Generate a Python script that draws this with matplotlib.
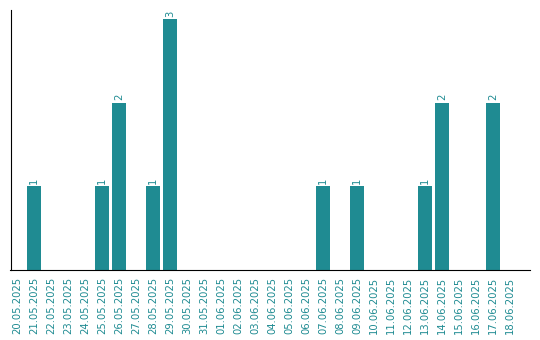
import matplotlib
matplotlib.use('Agg')
import matplotlib.pyplot as plt

dates = ['20.05.2025', '21.05.2025', '22.05.2025', '23.05.2025', '24.05.2025',
         '25.05.2025', '26.05.2025', '27.05.2025', '28.05.2025', '29.05.2025',
         '30.05.2025', '31.05.2025', '01.06.2025', '02.06.2025', '03.06.2025',
         '04.06.2025', '05.06.2025', '06.06.2025', '07.06.2025', '08.06.2025',
         '09.06.2025', '10.06.2025', '11.06.2025', '12.06.2025', '13.06.2025',
         '14.06.2025', '15.06.2025', '16.06.2025', '17.06.2025', '18.06.2025']
counts = [0, 1, 0, 0, 0, 1, 2, 0, 1, 3,
          0, 0, 0, 0, 0, 0, 0, 0, 1, 0,
          1, 0, 0, 0, 1, 2, 0, 0, 2, 0]

color = '#1f8b92'

fig = plt.figure(figsize=(5.4, 3.4), dpi=100)
ax = fig.add_axes([10.5 / 540, 70 / 340, 519.5 / 540, 260 / 340])

x = list(range(len(dates)))
ax.bar(x, counts, width=0.82, color=color)

for i, c in enumerate(counts):
    if c > 0:
        ax.text(i, c + 0.03, str(c), rotation=90, ha='center', va='bottom',
                color=color, fontsize=7.2)

ax.set_xlim(-0.38, 30.18)
ax.set_ylim(0, 3.11)
ax.set_xticks(x)
ax.set_xticklabels(dates, rotation=90, fontsize=7.2, color=color)
ax.tick_params(axis='x', length=0, pad=5)
ax.set_yticks([])
ax.spines['top'].set_visible(False)
ax.spines['right'].set_visible(False)

fig.savefig('out.png', dpi=100)
